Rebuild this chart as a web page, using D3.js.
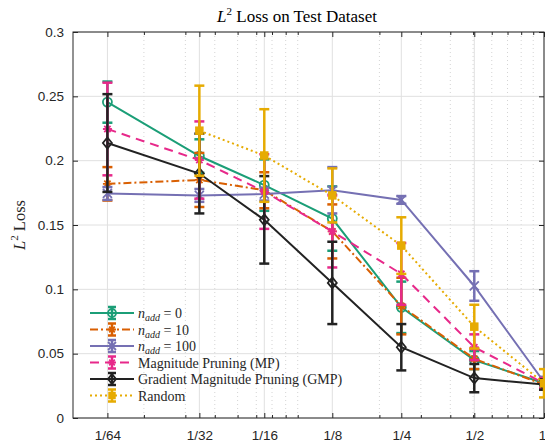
<!DOCTYPE html>
<html>
<head>
<meta charset="utf-8">
<script src="https://cdn.jsdelivr.net/npm/d3@7"></script>
<style>
body { margin: 0; background: #fff; }
</style>
</head>
<body>
<div id="chart"></div>
<script>
//Datos
const xLabels = ['1/64', '1/32', '1/16', '1/8', '1/4', '1/2', '1'];
const xValues = [0.0140, 0.0344, 0.0649, 0.1262, 0.2478, 0.5058, 1];
const xMinor = [0.02, 0.03, 0.04, 0.05, 0.06, 0.07, 0.08, 0.09, 0.2, 0.3, 0.4, 0.5, 0.6, 0.7, 0.8, 0.9];
const yTicks = [0, 0.05, 0.1, 0.15, 0.2, 0.25, 0.3];
const yTickLabels = ['0', '0.05', '0.1', '0.15', '0.2', '0.25', '0.3'];

const nadd0 = [0.2455, 0.2036, 0.181, 0.155, 0.086, 0.045, 0.027];
const nadd0Err = [0.016, 0.013, 0.020, 0.025, 0.020, 0.007, 0.004];
const nadd10 = [0.182, 0.185, 0.177, 0.145, 0.087, 0.046, 0.026];
const nadd10Err = [0.013, 0.021, 0.014, 0.021, 0.022, 0.008, 0.004];
const nadd100 = [0.1745, 0.173, 0.174, 0.177, 0.1695, 0.1026, 0.028];
const nadd100Err = [0.005, 0.005, 0.005, 0.018, 0.003, 0.0115, 0.004];
const mp = [0.2246, 0.2005, 0.176, 0.145, 0.112, 0.055, 0.027];
const mpErr = [0.036, 0.030, 0.029, 0.028, 0.024, 0.010, 0.004];
const gmp = [0.2137, 0.190, 0.154, 0.105, 0.055, 0.031, 0.026];
const gmpErr = [0.038, 0.031, 0.034, 0.032, 0.018, 0.011, 0.004];
const random = [null, 0.2233, 0.204, 0.173, 0.134, 0.071, 0.027];
const randomErr = [null, 0.035, 0.036, 0.021, 0.022, 0.017, 0.011];

const series = [
    {label: '0', values: nadd0, err: nadd0Err, color: '#1B9E77', dash: null, marker: 'circle'},
    {label: '10', values: nadd10, err: nadd10Err, color: '#D95F02', dash: '8,3,2,3', marker: 'star'},
    {label: '100', values: nadd100, err: nadd100Err, color: '#7570B3', dash: null, marker: 'cross'},
    {label: 'Magnitude Pruning (MP)', values: mp, err: mpErr, color: '#E7298A', dash: '9,6', marker: 'star'},
    {label: 'Gradient Magnitude Pruning (GMP)', values: gmp, err: gmpErr, color: '#222222', dash: null, marker: 'diamond'},
    {label: 'Random', values: random, err: randomErr, color: '#E6AB02', dash: '2,3', marker: 'square'}
];

const W = 545, H = 444;
const margin = {top: 32, right: 1, bottom: 26, left: 73};
const width = W - margin.left - margin.right,
    height = H - margin.top - margin.bottom;

const svg = d3.select('#chart').append('svg')
    .attr('width', W)
    .attr('height', H)
    .style('font-family', '"Liberation Sans", Arial, sans-serif');

const g = svg.append('g')
    .attr('transform', 'translate(' + margin.left + ',' + margin.top + ')');

const x = d3.scaleLog().domain([0.01, 1]).range([0, width]);
const y = d3.scaleLinear().domain([0, 0.3]).range([height, 0]);

//Rejilla
g.append('g').selectAll('line').data(xMinor).enter().append('line')
    .attr('x1', d => x(d)).attr('x2', d => x(d))
    .attr('y1', 0).attr('y2', height)
    .attr('stroke', '#d4d4d4').attr('stroke-width', 1)
    .attr('stroke-dasharray', '1,3');

g.append('g').selectAll('line').data(xValues).enter().append('line')
    .attr('x1', d => x(d)).attr('x2', d => x(d))
    .attr('y1', 0).attr('y2', height)
    .attr('stroke', '#e0e0e0').attr('stroke-width', 1);

g.append('g').selectAll('line').data(yTicks).enter().append('line')
    .attr('x1', 0).attr('x2', width)
    .attr('y1', d => y(d)).attr('y2', d => y(d))
    .attr('stroke', '#e0e0e0').attr('stroke-width', 1);

//Ejes
function styleAxis(sel) {
    sel.select('.domain').remove();
    sel.selectAll('line').attr('stroke', '#262626');
    sel.selectAll('text').attr('fill', '#262626').style('font-size', '13.5px')
        .style('font-family', '"Liberation Sans", Arial, sans-serif');
}

const xAxisG = g.append('g').attr('transform', 'translate(0,' + height + ')')
    .call(d3.axisBottom(x).tickValues(xValues).tickFormat((d, i) => xLabels[i])
        .tickSizeInner(-5).tickSizeOuter(0).tickPadding(12))
    .call(styleAxis);
//La última etiqueta queda en el borde
xAxisG.selectAll('text').filter(d => d == 1).attr('x', -2);

g.append('g').attr('transform', 'translate(0,' + height + ')')
    .call(d3.axisBottom(x).tickValues(xMinor).tickFormat('').tickSizeInner(-3).tickSizeOuter(0))
    .call(styleAxis);
g.append('g')
    .call(d3.axisTop(x).tickValues(xValues).tickFormat('').tickSizeInner(-5).tickSizeOuter(0))
    .call(styleAxis);
g.append('g')
    .call(d3.axisTop(x).tickValues(xMinor).tickFormat('').tickSizeInner(-3).tickSizeOuter(0))
    .call(styleAxis);
g.append('g')
    .call(d3.axisLeft(y).tickValues(yTicks).tickFormat((d, i) => yTickLabels[i])
        .tickSizeInner(-5).tickSizeOuter(0).tickPadding(9))
    .call(styleAxis);
g.append('g').attr('transform', 'translate(' + width + ',0)')
    .call(d3.axisRight(y).tickValues(yTicks).tickFormat('').tickSizeInner(-5).tickSizeOuter(0))
    .call(styleAxis);

g.append('rect')
    .attr('width', width).attr('height', height)
    .attr('fill', 'none').attr('stroke', '#262626').attr('stroke-width', 1);

//Marcadores
function drawMarker(sel, type, color, r) {
    if (type == 'circle') {
        sel.append('circle').attr('r', r).attr('fill', 'none')
            .attr('stroke', color).attr('stroke-width', 1.8);
    } else if (type == 'diamond') {
        sel.append('path').attr('d', 'M0,' + (-r - 1) + 'L' + r + ',0L0,' + (r + 1) + 'L' + (-r) + ',0Z')
            .attr('fill', 'none').attr('stroke', color).attr('stroke-width', 1.8);
    } else if (type == 'square') {
        sel.append('rect').attr('x', -r + 1).attr('y', -r + 1).attr('width', 2 * r - 2).attr('height', 2 * r - 2)
            .attr('fill', color).attr('stroke', color).attr('stroke-width', 1.5);
    } else if (type == 'cross') {
        sel.append('path').attr('d', 'M' + (-r) + ',' + (-r) + 'L' + r + ',' + r + 'M' + (-r) + ',' + r + 'L' + r + ',' + (-r))
            .attr('stroke', color).attr('stroke-width', 1.8);
    } else {
        const a = r * 0.7;
        sel.append('path').attr('d', 'M0,' + (-r) + 'V' + r + 'M' + (-r) + ',0H' + r +
            'M' + (-a) + ',' + (-a) + 'L' + a + ',' + a + 'M' + (-a) + ',' + a + 'L' + a + ',' + (-a))
            .attr('stroke', color).attr('stroke-width', 1.8);
    }
}

const line = d3.line()
    .defined(d => d.v != null)
    .x(d => x(d.x))
    .y(d => y(d.v));

const capW = 5;

series.forEach(function(s) {
    const pts = s.values.map((v, i) => ({x: xValues[i], v: v, e: s.err[i]}));
    const sg = g.append('g');

    sg.append('path').datum(pts)
        .attr('d', line)
        .attr('fill', 'none')
        .attr('stroke', s.color)
        .attr('stroke-width', 2)
        .attr('stroke-dasharray', s.dash);

    const valid = pts.filter(d => d.v != null);
    const bars = sg.append('g').selectAll('g').data(valid).enter().append('g')
        .attr('stroke', s.color).attr('stroke-width', 2.5);
    bars.append('line')
        .attr('x1', d => x(d.x)).attr('x2', d => x(d.x))
        .attr('y1', d => y(d.v + d.e)).attr('y2', d => y(d.v - d.e));
    bars.append('line')
        .attr('x1', d => x(d.x) - capW).attr('x2', d => x(d.x) + capW)
        .attr('y1', d => y(d.v + d.e)).attr('y2', d => y(d.v + d.e));
    bars.append('line')
        .attr('x1', d => x(d.x) - capW).attr('x2', d => x(d.x) + capW)
        .attr('y1', d => y(d.v - d.e)).attr('y2', d => y(d.v - d.e));

    sg.append('g').selectAll('g').data(valid).enter().append('g')
        .attr('transform', d => 'translate(' + x(d.x) + ',' + y(d.v) + ')')
        .each(function() { drawMarker(d3.select(this), s.marker, s.color, 4.5); });
});

//Leyenda
const legend = g.append('g').attr('transform', 'translate(0,' + (313 - margin.top) + ')');
series.forEach(function(s, i) {
    const row = legend.append('g').attr('transform', 'translate(0,' + (i * 16.5) + ')');
    row.append('line').attr('x1', 17).attr('x2', 61).attr('y1', 0).attr('y2', 0)
        .attr('stroke', s.color).attr('stroke-width', 2).attr('stroke-dasharray', s.dash);
    row.append('line').attr('x1', 39).attr('x2', 39).attr('y1', -6).attr('y2', 6)
        .attr('stroke', s.color).attr('stroke-width', 2.5);
    row.append('line').attr('x1', 35).attr('x2', 43).attr('y1', -6).attr('y2', -6)
        .attr('stroke', s.color).attr('stroke-width', 2.5);
    row.append('line').attr('x1', 35).attr('x2', 43).attr('y1', 6).attr('y2', 6)
        .attr('stroke', s.color).attr('stroke-width', 2.5);
    drawMarker(row.append('g').attr('transform', 'translate(39,0)'), s.marker, s.color, 4);

    const t = row.append('text').attr('x', 65).attr('y', 5)
        .style('font-family', '"Liberation Serif", "Times New Roman", serif')
        .style('font-size', '14px').attr('fill', '#262626');
    if (i < 3) {
        t.append('tspan').style('font-style', 'italic').text('n');
        t.append('tspan').style('font-style', 'italic').style('font-size', '10px').attr('dy', 3).text('add');
        t.append('tspan').attr('dy', -3).text(' = ' + s.label);
    } else {
        t.text(s.label);
    }
});

//Títulos
const title = svg.append('text').attr('x', 297).attr('y', 22)
    .attr('text-anchor', 'middle')
    .style('font-family', '"Liberation Serif", "Times New Roman", serif')
    .style('font-size', '17px').attr('fill', '#000');
title.append('tspan').style('font-style', 'italic').text('L');
title.append('tspan').style('font-size', '11px').attr('dy', -7).text('2');
title.append('tspan').attr('dy', 7).text(' Loss on Test Dataset');

const ylab = svg.append('text')
    .attr('transform', 'translate(25,225) rotate(-90)')
    .attr('text-anchor', 'middle')
    .style('font-family', '"Liberation Serif", "Times New Roman", serif')
    .style('font-size', '16.5px').attr('fill', '#262626');
ylab.append('tspan').style('font-style', 'italic').text('L');
ylab.append('tspan').style('font-size', '11px').attr('dy', -7).text('2');
ylab.append('tspan').attr('dy', 7).text(' Loss');
</script>
</body>
</html>
